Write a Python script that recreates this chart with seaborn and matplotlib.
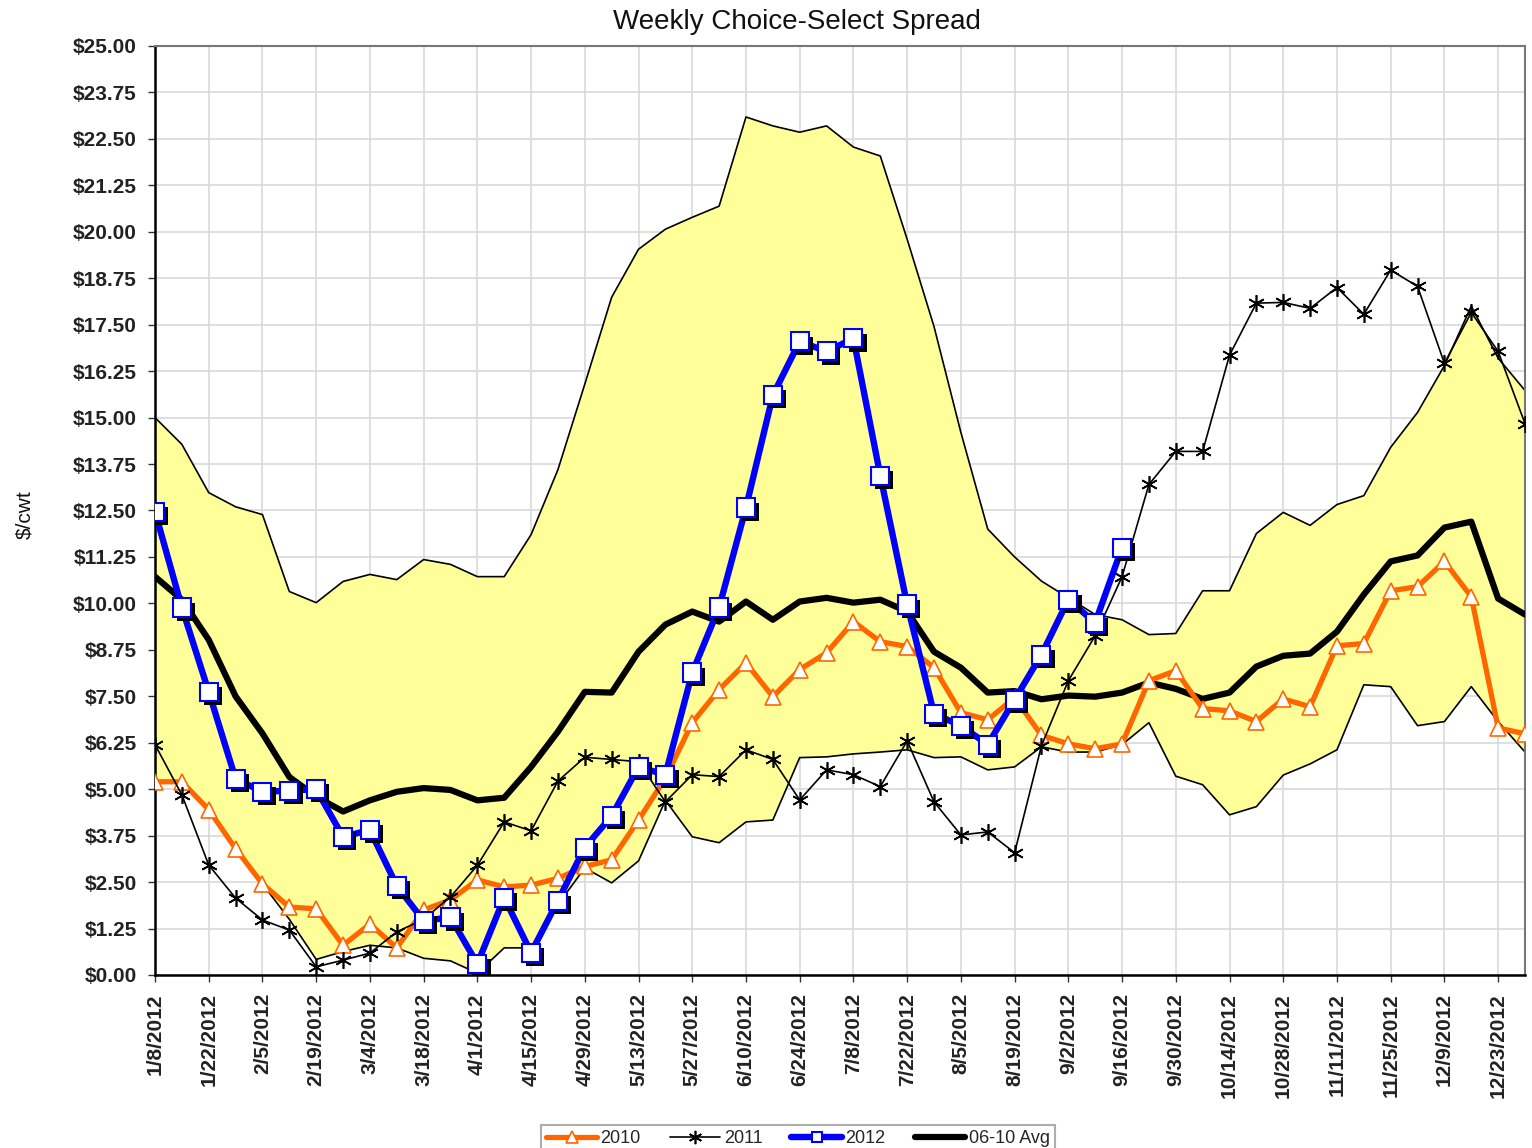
import numpy as np
import pandas as pd
import matplotlib
matplotlib.use('Agg')
import matplotlib.pyplot as plt
import matplotlib.patheffects as pe
import seaborn as sns

# weekly dates, 1/8/2012 .. 12/30/2012
weeks = pd.date_range('2012-01-08', periods=52, freq='7D')
week_labels = [f'{d.month}/{d.day}/{d.year}' for d in weeks]

spread_2010 = [5.2, 5.2, 4.45, 3.4, 2.45, 1.83, 1.78, 0.8, 1.37, 0.73,
               1.75, 2.02, 2.56, 2.37, 2.42, 2.6, 2.92, 3.1, 4.17, 5.3,
               6.79, 7.68, 8.4, 7.49, 8.22, 8.67, 9.51, 8.97, 8.84, 8.27,
               7.06, 6.87, 7.46, 6.45, 6.22, 6.09, 6.22, 7.92, 8.19, 7.17,
               7.11, 6.82, 7.43, 7.22, 8.86, 8.92, 10.34, 10.45, 11.13, 10.18,
               6.65, 6.49]
spread_2011 = [6.2, 4.85, 2.96, 2.07, 1.48, 1.21, 0.22, 0.4, 0.59, 1.16,
               1.5, 2.1, 2.95, 4.12, 3.88, 5.22, 5.86, 5.8, 5.74, 4.66,
               5.39, 5.34, 6.06, 5.8, 4.71, 5.52, 5.39, 5.07, 6.3, 4.66,
               3.77, 3.85, 3.29, 6.17, 7.92, 9.13, 10.72, 13.2, 14.09, 14.09,
               16.68, 18.08, 18.1, 17.94, 18.5, 17.78, 18.97, 18.53, 16.46, 17.83,
               16.78, 14.84]
spread_2012 = [12.47, 9.89, 7.62, 5.28, 4.93, 4.96, 5.0, 3.72, 3.9, 2.4,
               1.46, 1.55, 0.3, 2.08, 0.6, 2.0, 3.43, 4.28, 5.6, 5.39,
               8.14, 9.89, 12.58, 15.6, 17.05, 16.78, 17.13, 13.44, 9.97, 7.03,
               6.71, 6.2, 7.41, 8.62, 10.1, 9.48, 11.5]
avg_06_10 = [10.72, 10.1, 9.02, 7.5, 6.5, 5.33, 4.8, 4.4, 4.7, 4.93,
             5.03, 4.98, 4.7, 4.77, 5.6, 6.55, 7.62, 7.6, 8.7, 9.43,
             9.78, 9.51, 10.05, 9.56, 10.05, 10.15, 10.02, 10.1, 9.78, 8.7,
             8.27, 7.6, 7.64, 7.42, 7.52, 7.49, 7.6, 7.87, 7.7, 7.43,
             7.6, 8.3, 8.59, 8.65, 9.24, 10.24, 11.13, 11.29, 12.04, 12.2,
             10.13, 9.7]
band_low = [5.2, 5.2, 4.45, 3.4, 2.45, 1.5, 0.42, 0.63, 0.8, 0.73,
            0.45, 0.38, 0.05, 0.73, 0.73, 1.9, 2.88, 2.48, 3.07, 4.7,
            3.72, 3.56, 4.12, 4.17, 5.85, 5.87, 5.95, 6.0, 6.06, 5.85,
            5.87, 5.52, 5.6, 6.14, 6.0, 6.0, 6.2, 6.79, 5.35, 5.12,
            4.31, 4.53, 5.38, 5.68, 6.06, 7.81, 7.76, 6.71, 6.82, 7.76,
            6.82, 6.0]
band_high = [15.0, 14.28, 12.98, 12.6, 12.39, 10.32, 10.02, 10.59, 10.78, 10.64,
             11.18, 11.05, 10.72, 10.72, 11.85, 13.6, 15.9, 18.24, 19.53, 20.07,
             20.39, 20.69, 23.09, 22.85, 22.68, 22.85, 22.28, 22.04, 19.8, 17.45,
             14.6, 12.0, 11.25, 10.6, 10.15, 9.7, 9.56, 9.16, 9.19, 10.34,
             10.34, 11.88, 12.45, 12.1, 12.66, 12.9, 14.2, 15.14, 16.4, 18.0,
             16.6, 15.73]

df = pd.DataFrame({'week': np.arange(len(weeks)),
                   '2010': spread_2010, '2011': spread_2011,
                   'avg': avg_06_10, 'low': band_low, 'high': band_high})
df12 = pd.DataFrame({'week': np.arange(len(spread_2012)), '2012': spread_2012})

sns.set_style('white')
plt.rcParams['font.family'] = ['Liberation Sans', 'DejaVu Sans']

fig = plt.figure(figsize=(15.32, 11.48), dpi=100)
ax = fig.add_axes([155/1532, 1-975/1148, 1370/1532, 929/1148])

# min-max band of 2006-10
ax.fill_between(df['week'], df['low'], df['high'], facecolor='#FFFF99',
                edgecolor='none', zorder=1)
sns.lineplot(data=df, x='week', y='low', color='black', lw=1.2, ax=ax, zorder=2)
sns.lineplot(data=df, x='week', y='high', color='black', lw=1.2, ax=ax, zorder=2)

h_avg = sns.lineplot(data=df, x='week', y='avg', color='black', lw=4.5,
                     ax=ax, zorder=3).lines[-1]
h10 = sns.lineplot(data=df, x='week', y='2010', color='#FF6600', lw=3.8,
                   marker='^', markersize=11, markerfacecolor='white',
                   markeredgecolor='#FF6600', markeredgewidth=1.2,
                   ax=ax, zorder=4).lines[-1]
h11 = sns.lineplot(data=df, x='week', y='2011', color='black', lw=1.2,
                   marker=(6, 2, 0), markersize=12, markeredgewidth=1.2,
                   markeredgecolor='black', markerfacecolor='black',
                   ax=ax, zorder=5).lines[-1]
h12_line = sns.lineplot(data=df12, x='week', y='2012', color='#0000FF', lw=4.6,
                        ax=ax, zorder=6).lines[-1]
# square markers with the dark drop shadow
h12_mark = sns.lineplot(data=df12, x='week', y='2012', color='#0000FF',
                        linestyle='', marker='s', markersize=13,
                        markerfacecolor='white', markeredgecolor='#0000FF',
                        markeredgewidth=1.5,
                        path_effects=[pe.SimplePatchShadow(offset=(3, -3), shadow_rgbFace='black', alpha=1.0),
                                      pe.Normal()],
                        ax=ax, zorder=7).lines[-1]

ax.set_xlim(0, 51)
ax.set_ylim(0, 25)
ax.set_xticks(np.arange(0, 52, 2))
ax.set_xticklabels(week_labels[::2], rotation=90)
yt = np.arange(0, 25.01, 1.25)
ax.set_yticks(yt)
ax.set_yticklabels([r'\$' + f'{v:.2f}' for v in yt])
ax.tick_params(axis='both', direction='out', length=5, width=1, color='#333333',
               labelsize=15, pad=8, left=True, bottom=True)
for lab in ax.get_xticklabels() + ax.get_yticklabels():
    lab.set_fontweight('bold')
    lab.set_color('#222222')
ax.grid(True, color='#D9D9D9', lw=1.2)
ax.set_axisbelow(True)
ax.set_xlabel('')
ax.set_ylabel('')
for s in ['top', 'right']:
    ax.spines[s].set_color('#777777')
    ax.spines[s].set_linewidth(1.5)
for s in ['left', 'bottom']:
    ax.spines[s].set_color('black')
    ax.spines[s].set_linewidth(1.8)

fig.text(797/1532, 1-22/1148, 'Weekly Choice-Select Spread', ha='center',
         va='center', fontsize=20, color='#111111')
fig.text(25/1532, 1-515/1148, r'\$/cwt', rotation=90, ha='center',
         va='center', fontsize=15, color='#111111')

h12_leg = (h12_line, sns.lineplot(x=[np.nan], y=[np.nan], color='#0000FF', linestyle='',
                                  marker='s', markersize=9, markerfacecolor='white',
                                  markeredgecolor='#0000FF', markeredgewidth=1.5,
                                  ax=ax).lines[-1])
leg = fig.legend([h10, h11, h12_leg, h_avg], ['2010', '2011', '2012', '06-10 Avg'],
                 loc='upper center', bbox_to_anchor=(798/1532, 1-1116/1148),
                 ncol=4, fontsize=13, frameon=True, fancybox=False,
                 edgecolor='#999999', handlelength=2.8, handletextpad=0.2,
                 columnspacing=1.6, borderpad=0.3, markerscale=0.8)
leg.get_frame().set_linewidth(1.5)

fig.savefig('out.png', dpi=100)
